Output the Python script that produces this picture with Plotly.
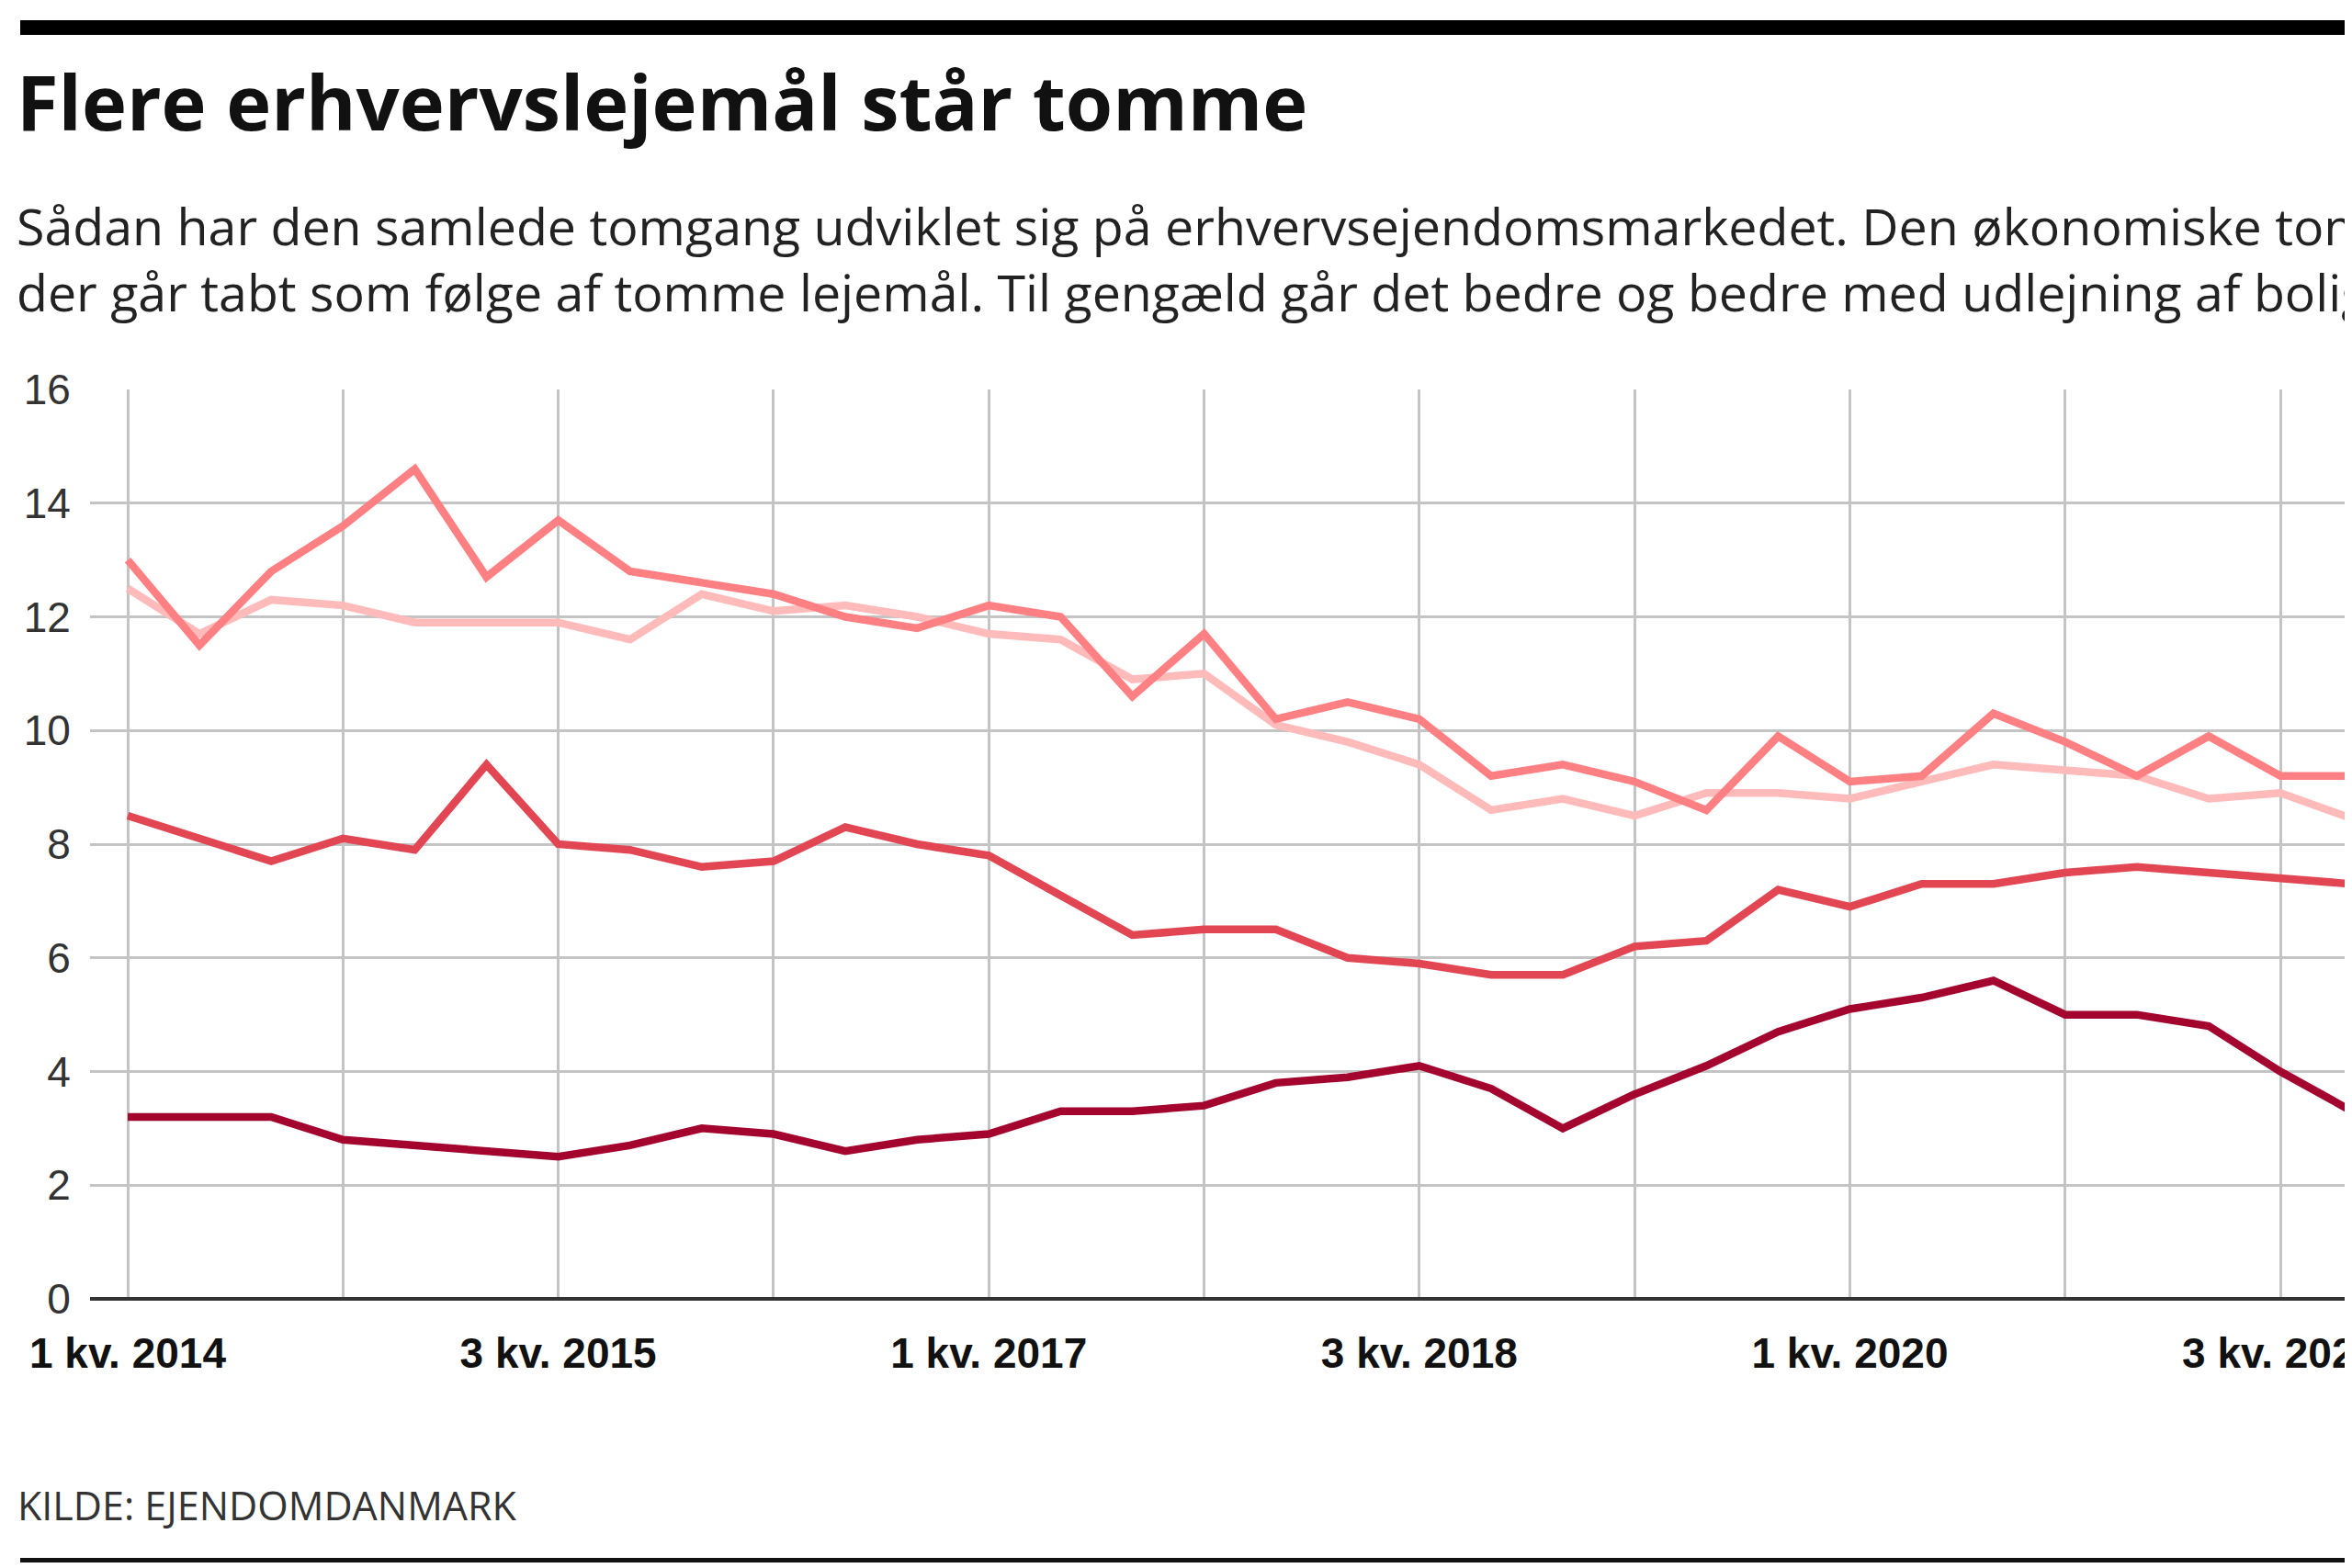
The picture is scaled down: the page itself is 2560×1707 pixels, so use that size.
import plotly.graph_objects as go

# ---------------- data ----------------
quarters = [f"{q} kv. {y}" for y in range(2014, 2022) for q in (1, 2, 3, 4)]

serie_a = [13.0, 11.5, 12.8, 13.6, 14.6, 12.7, 13.7, 12.8, 12.6, 12.4, 12.0, 11.8,
           12.2, 12.0, 10.6, 11.7, 10.2, 10.5, 10.2, 9.2, 9.4, 9.1, 8.6, 9.9,
           9.1, 9.2, 10.3, 9.8, 9.2, 9.9, 9.2, 9.2]
serie_b = [12.5, 11.7, 12.3, 12.2, 11.9, 11.9, 11.9, 11.6, 12.4, 12.1, 12.2, 12.0,
           11.7, 11.6, 10.9, 11.0, 10.1, 9.8, 9.4, 8.6, 8.8, 8.5, 8.9, 8.9,
           8.8, 9.1, 9.4, 9.3, 9.2, 8.8, 8.9, 8.45]
serie_c = [8.5, 8.1, 7.7, 8.1, 7.9, 9.4, 8.0, 7.9, 7.6, 7.7, 8.3, 8.0,
           7.8, 7.1, 6.4, 6.5, 6.5, 6.0, 5.9, 5.7, 5.7, 6.2, 6.3, 7.2,
           6.9, 7.3, 7.3, 7.5, 7.6, 7.5, 7.4, 7.3]
serie_d = [3.2, 3.2, 3.2, 2.8, 2.7, 2.6, 2.5, 2.7, 3.0, 2.9, 2.6, 2.8,
           2.9, 3.3, 3.3, 3.4, 3.8, 3.9, 4.1, 3.7, 3.0, 3.6, 4.1, 4.7,
           5.1, 5.3, 5.6, 5.0, 5.0, 4.8, 4.0, 3.3]

y_ticks = [0, 2, 4, 6, 8, 10, 12, 14, 16]
x_grid = quarters[::3]
x_text = [q if k % 2 == 0 else "" for k, q in enumerate(x_grid)]

title = "Flere erhvervslejemål står tomme"
sub1 = ("Sådan har den samlede tomgang udviklet sig på erhvervsejendomsmarkedet. "
        "Den økonomiske tomgang viser den andel af lejeindtægterne,")
sub2 = ("der går tabt som følge af tomme lejemål. Til gengæld går det bedre og bedre "
        "med udlejning af boliger.")
source = "KILDE: EJENDOMDANMARK"

# ---------------- layout geometry ----------------
W, H = 2560, 1707
L, R, T, B = 90, 0, 416, 301


def px(x):
    return (x - L) / (W - L - R)


def py(y):
    return (H - B - y) / (H - T - B)


fig = go.Figure()
series = [
    (serie_b, "#ffbaba"),
    (serie_a, "#ff8083"),
    (serie_c, "#e24653"),
    (serie_d, "#a4052f"),
]
for vals, col in series:
    fig.add_trace(go.Scatter(
        x=quarters, y=vals, mode="lines",
        line=dict(color=col, width=8.5),
        hoverinfo="skip", showlegend=False,
    ))

fig.update_layout(
    width=W, height=H,
    margin=dict(l=L, r=R, t=T, b=B, pad=0),
    paper_bgcolor="white", plot_bgcolor="white",
    showlegend=False,
    xaxis=dict(
        type="category", categoryorder="array", categoryarray=quarters,
        range=[-0.525, 31.1],
        tickmode="array", tickvals=x_grid, ticktext=x_text,
        showgrid=True, gridcolor="#c4c4c4", gridwidth=3,
        zeroline=False, showline=False,
        ticks="outside", ticklen=19, tickcolor="rgba(0,0,0,0)",
        tickfont=dict(family="Liberation Sans", size=46, color="#111111", weight="bold"),
        automargin=False, fixedrange=True,
    ),
    yaxis=dict(
        range=[0, 16], tickmode="array", tickvals=y_ticks,
        showgrid=True, gridcolor="#c4c4c4", gridwidth=3,
        zeroline=True, zerolinecolor="#333333", zerolinewidth=4,
        showline=False,
        ticks="outside", ticklen=11, tickcolor="rgba(0,0,0,0)",
        tickfont=dict(family="Liberation Sans", size=46, color="#333333"),
        automargin=False, fixedrange=True,
    ),
)

# top heavy rule and bottom thin rule
fig.add_shape(type="rect", xref="paper", yref="paper",
              x0=px(14), x1=px(2600), y0=py(30), y1=py(14),
              fillcolor="#000000", line=dict(width=0), layer="above")
fig.add_shape(type="rect", xref="paper", yref="paper",
              x0=px(14), x1=px(2600), y0=py(1693), y1=py(1688),
              fillcolor="#111111", line=dict(width=0), layer="above")

ann = [
    dict(text=title, x=px(8), y=py(160), size=83, weight="bold", color="#111111"),
    dict(text=sub1 + "<br>" + sub2, x=px(8), y=py(349), size=55.5, weight="normal",
         color="#222222"),
    dict(text=source, x=px(9), y=py(1662), size=43, weight="normal", color="#333333"),
]
for a in ann:
    fig.add_annotation(
        text=a["text"], xref="paper", yref="paper", x=a["x"], y=a["y"],
        xanchor="left", yanchor="bottom", showarrow=False, align="left",
        font=dict(family="Open Sans", size=a["size"], color=a["color"], weight=a["weight"]),
    )

fig.write_html("out.html", config={"displayModeBar": False})
